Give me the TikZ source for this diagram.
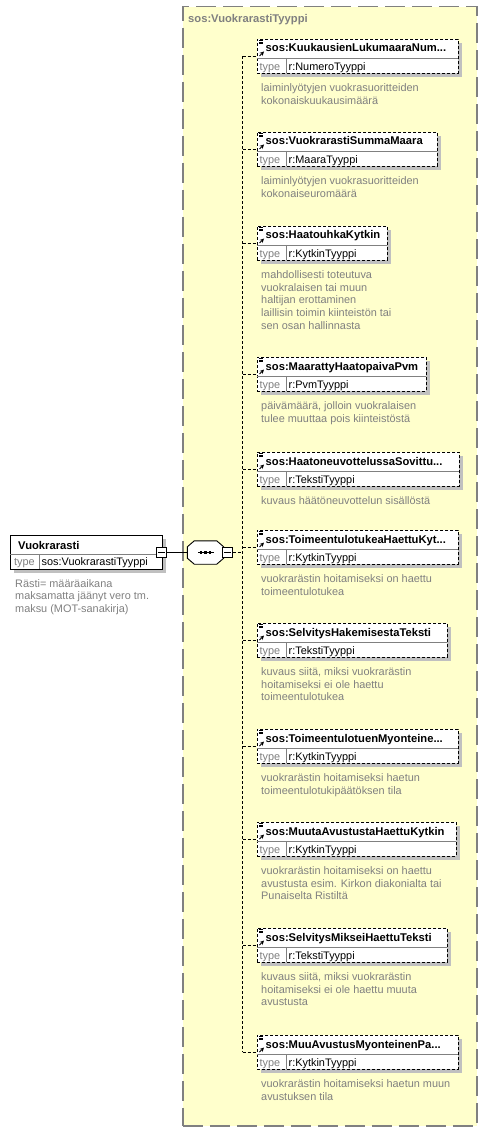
\documentclass[tikz,border=0pt]{standalone}
\usepackage{fontspec}
\setmainfont{Liberation Sans}
\usetikzlibrary{arrows,shadows}

\definecolor{xsdyellow}{RGB}{255,255,204}
\definecolor{xsdgray}{RGB}{128,128,128}
\definecolor{xsdshadow}{RGB}{192,192,192}

\tikzset{
  grouptype/.style={draw=xsdgray, fill=xsdyellow, line width=1.5pt, dash pattern=on 20pt off 7pt, inner sep=0pt, anchor=north west},
  elembox/.style={draw=black, fill=white, line width=0.9pt, inner sep=0pt, minimum height=34pt, anchor=north west,
    drop shadow={shadow xshift=4pt, shadow yshift=-4pt, fill=xsdshadow, opacity=1}},
  optbox/.style={elembox, dash pattern=on 3pt off 2pt},
  elemname/.style={font=\fontsize{11.2}{13}\selectfont\bfseries, inner sep=0pt, anchor=base west},
  typelabel/.style={font=\fontsize{10.9}{12.7}\selectfont, text=xsdgray, inner sep=0pt, anchor=base west},
  typename/.style={font=\fontsize{10.9}{12.7}\selectfont, inner sep=0pt, anchor=base west},
  annotation/.style={font=\fontsize{10.9}{12.7}\selectfont, text=xsdgray, align=left, inner sep=0pt, anchor=north west},
  rowline/.style={draw=xsdgray, line width=0.8pt},
  conn/.style={line width=0.9pt, dash pattern=on 3pt off 2pt},
  togglebox/.style={draw=black, fill=white, line width=0.8pt, minimum size=10pt, inner sep=0pt},
}

\newcommand{\sosElement}[6]{%
  \draw[conn] (spine |- 0,#2+17) -- (257,#2+17);
  \node[optbox, minimum width={#3-257}] (#1) at (257,#2) {};
  \draw[rowline] (257,#2+19) -- (#3,#2+19) (286.5,#2+19) -- (286.5,#2+34);
  \node[elemname] (#1-name) at (265.5,#2+13) {#4};
  \node[typelabel] (#1-type) at (259.5,#2+31.5) {type};
  \node[typename] (#1-tn) at (288.5,#2+31.5) {#5};
  \node[annotation] (#1-doc) at (261,#2+44.4) {#6};
  \draw[line width=0.6pt] (259,#2+1.5) -- +(3.5,0) (259,#2+3) -- +(3.5,0) (259,#2+4.5) -- +(3.5,0);
  \draw[-stealth, line width=0.9pt] (259.5,#2+17) -- +(4.5,-4.5);
}

\begin{document}
\begin{tikzpicture}[x=1pt, y=-1pt]
\useasboundingbox (0,0) rectangle (487,1131);

\node[grouptype, minimum width=294pt, minimum height=1119pt] (VuokrarastiTyyppiGroup) at (182,6) {};
\node[elemname, text=xsdgray] (VuokrarastiTyyppi) at (188,22.5) {sos:VuokrarastiTyyppi};

\coordinate (spine) at (242.5,552.5);

\sosElement{KuukausienLukumaara}{39}{458}{sos:KuukausienLukumaaraNum...}{r:NumeroTyyppi}{laiminlyötyjen vuokrasuoritteiden\\kokonaiskuukausimäärä}
\sosElement{VuokrarastiSumma}{132}{437}{sos:VuokrarastiSummaMaara}{r:MaaraTyyppi}{laiminlyötyjen vuokrasuoritteiden\\kokonaiseuromäärä}
\sosElement{Haatouhka}{226}{387}{sos:HaatouhkaKytkin}{r:KytkinTyyppi}{mahdollisesti toteutuva\\vuokralaisen tai muun\\haltijan erottaminen\\laillisin toimin kiinteistön tai\\sen osan hallinnasta}
\sosElement{MaarattyHaatopaiva}{357}{426}{sos:MaarattyHaatopaivaPvm}{r:PvmTyyppi}{päivämäärä, jolloin vuokralaisen\\tulee muuttaa pois kiinteistöstä}
\sosElement{Haatoneuvottelu}{452}{459}{sos:HaatoneuvottelussaSovittu...}{r:TekstiTyyppi}{kuvaus häätöneuvottelun sisällöstä}
\sosElement{ToimeentulotukeaHaettu}{530}{458}{sos:ToimeentulotukeaHaettuKyt...}{r:KytkinTyyppi}{vuokrarästin hoitamiseksi on haettu\\toimeentulotukea}
\sosElement{SelvitysHakemisesta}{623}{447}{sos:SelvitysHakemisestaTeksti}{r:TekstiTyyppi}{kuvaus siitä, miksi vuokrarästin\\hoitamiseksi ei ole haettu\\toimeentulotukea}
\sosElement{ToimeentulotuenMyonteinen}{729}{458}{sos:ToimeentulotuenMyonteine...}{r:KytkinTyyppi}{vuokrarästin hoitamiseksi haetun\\toimeentulotukipäätöksen tila}
\sosElement{MuutaAvustusta}{822}{456}{sos:MuutaAvustustaHaettuKytkin}{r:KytkinTyyppi}{vuokrarästin hoitamiseksi on haettu\\avustusta esim. Kirkon diakonialta tai\\Punaiselta Ristiltä}
\sosElement{SelvitysMiksei}{928}{447}{sos:SelvitysMikseiHaettuTeksti}{r:TekstiTyyppi}{kuvaus siitä, miksi vuokrarästin\\hoitamiseksi ei ole haettu muuta\\avustusta}
\sosElement{MuuAvustus}{1035}{458}{sos:MuuAvustusMyonteinenPa...}{r:KytkinTyyppi}{vuokrarästin hoitamiseksi haetun muun\\avustuksen tila}

\draw[conn] (spine |- KuukausienLukumaara.west) -- (spine |- MuuAvustus.west);

\node[minimum width=36pt, minimum height=23pt, inner sep=0pt] (sequence) at (205.5,552.5) {};
\fill[xsdshadow, xshift=4pt, yshift=-4pt] ([xshift=7pt]sequence.north west) -- ([xshift=-7pt]sequence.north east) -- ([yshift=-6pt]sequence.north east) -- ([yshift=6pt]sequence.south east) -- ([xshift=-7pt]sequence.south east) -- ([xshift=7pt]sequence.south west) -- ([yshift=6pt]sequence.south west) -- ([yshift=-6pt]sequence.north west) -- cycle;
\filldraw[fill=white, line width=0.9pt] ([xshift=7pt]sequence.north west) -- ([xshift=-7pt]sequence.north east) -- ([yshift=-6pt]sequence.north east) -- ([yshift=6pt]sequence.south east) -- ([xshift=-7pt]sequence.south east) -- ([xshift=7pt]sequence.south west) -- ([yshift=6pt]sequence.south west) -- ([yshift=-6pt]sequence.north west) -- cycle;
\draw[line width=0.8pt] ([xshift=-7.5pt]sequence.center) -- ([xshift=8.5pt]sequence.center);
\foreach \dx in {-4.5,0,4.5}
  \fill ([xshift=\dx pt]sequence.center) +(-1.3,-1.3) rectangle +(1.3,1.3);
\node[togglebox] (SequenceToggle) at (227.5,552.5) {};
\draw[line width=0.8pt] ([xshift=2pt]SequenceToggle.west) -- ([xshift=-2pt]SequenceToggle.east);
\draw[conn] (SequenceToggle.east) -- (spine);

\node[elembox, minimum width=152pt] (Vuokrarasti) at (10,535) {};
\draw[rowline] (10,554.5) -- (162,554.5) (39.5,554.5) -- (39.5,569);
\node[elemname] (Vuokrarasti-name) at (18,549.5) {Vuokrarasti};
\node[typelabel] (Vuokrarasti-type) at (14,565) {type};
\node[typename] (Vuokrarasti-tn) at (41.5,565) {sos:VuokrarastiTyyppi};
\node[annotation] (Vuokrarasti-doc) at (15,578.9) {Rästi= määräaikana\\maksamatta jäänyt vero tm.\\maksu (MOT-sanakirja)};
\node[togglebox] (VuokrarastiToggle) at (161.5,552.5) {};
\draw[line width=0.8pt] ([xshift=2pt]VuokrarastiToggle.west) -- ([xshift=-2pt]VuokrarastiToggle.east);
\draw[line width=0.9pt] (VuokrarastiToggle.east) -- (sequence.west);
\end{tikzpicture}
\end{document}
